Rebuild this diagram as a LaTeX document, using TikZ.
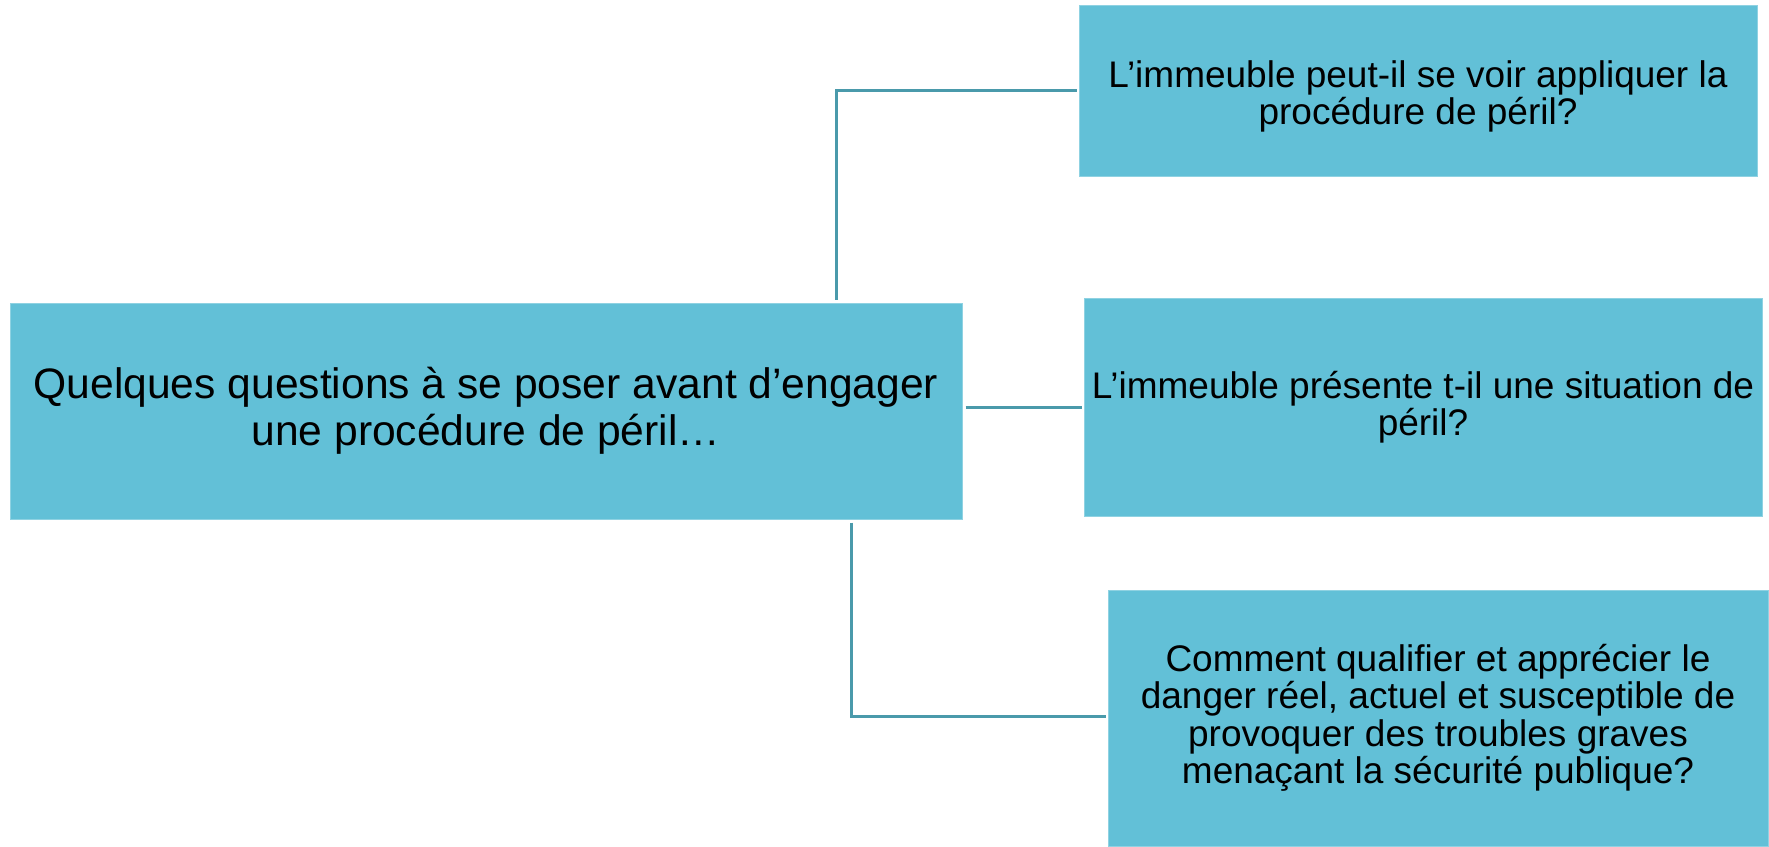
\documentclass[tikz,border=0pt]{standalone}
\usepackage{fontspec}
\setmainfont{Liberation Sans}
\definecolor{boxfill}{HTML}{62C0D7}
\definecolor{boxedge}{HTML}{8FD2E2}
\definecolor{linkcol}{HTML}{4A9AAB}
\begin{document}
\begin{tikzpicture}[x=1pt,y=-1pt,
  qbox/.style={rectangle,fill=boxfill,draw=boxedge,line width=1pt,inner sep=0pt,align=center,
    font=\fontsize{37}{37.5}\selectfont},
  link/.style={draw=linkcol,line width=3pt}]
\useasboundingbox (0,0) rectangle (1769,846);
\node[qbox,minimum width=952pt,minimum height=216pt,font=\fontsize{42.6}{47}\selectfont] (main) at (486,411)
  {Quelques questions à se poser avant d’engager\\une procédure de péril…};
\node[qbox,minimum width=678pt,minimum height=171pt] (b1) at (1418,90.5)
  {\rule{0pt}{39pt}L’immeuble peut-il se voir appliquer la\\procédure de péril?};
\node[qbox,minimum width=678pt,minimum height=218pt] (b2) at (1423,407)
  {L’immeuble présente t-il une situation de\\péril?};
\node[qbox,minimum width=660pt,minimum height=256pt] (b3) at (1438,718)
  {Comment qualifier et apprécier le\\danger réel, actuel et susceptible de\\provoquer des troubles graves\\menaçant la sécurité publique?};
\draw[link] ([xshift=350pt,yshift=3pt]main.north) |- ([xshift=-2pt]b1.west);
\draw[link] ([xshift=3pt]main.east |- b2.west) -- ([xshift=-2pt]b2.west);
\draw[link] ([xshift=365pt,yshift=-3pt]main.south) |- ([xshift=-2pt,yshift=2pt]b3.west);
\end{tikzpicture}
\end{document}
